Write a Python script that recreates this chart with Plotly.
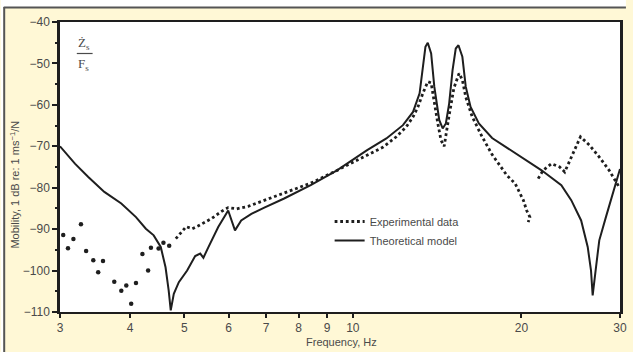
import plotly.graph_objects as go

# ---- data ----
exp_sparse_freq = [3.04, 3.10, 3.17, 3.27, 3.34, 3.44, 3.51, 3.58, 3.75, 3.86, 3.94, 4.02, 4.10, 4.21, 4.31, 4.36, 4.50, 4.59, 4.70]
exp_sparse_mob = [-91.4, -94.6, -92.4, -88.8, -95.3, -97.5, -100.4, -97.7, -102.7, -104.9, -103.6, -108.0, -103.0, -96.0, -100.0, -94.5, -94.7, -93.3, -94.0]

exp_curve_freq = [4.83, 4.94, 5.04, 5.17, 5.30, 5.60, 5.83, 5.99, 6.20, 6.50, 6.95, 7.65, 8.41, 9.25, 9.76, 10.45,
                  11.33, 11.96, 12.46, 12.81, 13.07, 13.34, 13.61, 13.80, 13.98, 14.18, 14.37, 14.56, 14.86, 15.15,
                  15.48, 15.69, 15.91, 16.34, 17.02, 17.73, 18.84, 19.49, 20.16, 20.44, 20.71, 20.57, None,
                  21.43, 21.87, 22.63, 23.41, 23.90, 24.55, 25.06, 25.50, 26.45, 27.55, 28.69, 29.28, 29.88]
exp_curve_mob = [-92.3, -90.8, -89.4, -89.9, -89.2, -87.4, -85.7, -84.8, -85.1, -84.5, -83.0, -81.0, -78.9, -76.2, -74.6, -72.6,
                 -70.2, -67.7, -65.3, -62.9, -60.5, -57.2, -54.4, -54.7, -59.6, -64.4, -68.5, -70.0, -62.5, -56.0,
                 -52.4, -54.0, -58.1, -62.9, -67.7, -72.0, -77.0, -79.0, -83.0, -85.5, -87.1, -88.3, None,
                 -77.8, -75.8, -74.2, -75.0, -76.2, -72.6, -69.7, -67.7, -69.7, -72.6, -75.8, -77.8, -79.8]

theory_freq = [3.00, 3.19, 3.37, 3.60, 3.86, 4.10, 4.27, 4.41, 4.54, 4.63, 4.69, 4.73, 4.79, 4.89, 5.06, 5.23, 5.34, 5.41,
               5.52, 5.75, 5.99, 6.16, 6.32, 6.59, 6.95, 7.54, 8.41, 9.37, 10.59, 11.48, 12.29, 12.81, 13.16, 13.34,
               13.48, 13.61, 13.80, 13.98, 14.27, 14.47, 14.66, 14.86, 15.07, 15.27, 15.44, 15.69, 15.91, 16.23, 16.79,
               17.73, 19.49, 21.73, 23.57, 24.55, 25.57, 26.27, 26.63, 26.81, 27.18, 27.55, 28.31, 29.28, 30.0]
theory_mob = [-70.0, -74.2, -77.4, -81.0, -83.8, -87.1, -89.9, -91.5, -94.3, -99.2, -104.8, -109.6, -105.6, -102.8, -100.0,
              -96.5, -95.9, -96.9, -94.4, -89.5, -85.5, -90.3, -87.9, -86.3, -84.8, -82.6, -79.4, -75.8, -71.0, -68.1,
              -64.9, -61.7, -57.2, -50.8, -46.0, -45.0, -47.6, -55.6, -63.7, -65.7, -64.5, -59.7, -51.6, -46.4, -45.6,
              -48.4, -55.6, -60.5, -64.5, -68.0, -71.7, -75.8, -79.4, -83.0, -87.9, -94.3, -100.0, -106.0, -99.2,
              -92.7, -87.1, -80.6, -75.5]

x_ticks = [3, 4, 5, 6, 7, 8, 9, 10, 20, 30]
y_ticks = [-40, -50, -60, -70, -80, -90, -100, -110]

INK = "#1e1e1e"
TXT = "#4a4a4a"
CREAM = "#fff8d6"
FONT = "Liberation Sans, Arial, sans-serif"

fig = go.Figure()
fig.add_trace(go.Scatter(x=exp_curve_freq, y=exp_curve_mob, mode="lines", name="Experimental data",
                         line=dict(color=INK, width=2.8, dash="2.8px,2.8px"), connectgaps=False))
fig.add_trace(go.Scatter(x=exp_sparse_freq, y=exp_sparse_mob, mode="markers", showlegend=False,
                         marker=dict(color=INK, size=4.5)))
fig.add_trace(go.Scatter(x=theory_freq, y=theory_mob, mode="lines", name="Theoretical model",
                         line=dict(color=INK, width=2)))

L, R, T, B = 60, 6, 22, 40
W, H = 633, 352
pw, ph = W - L - R, H - T - B


def px(xp):
    return (xp - L) / pw


def py(yp):
    return 1 - (yp - T) / ph


fig.update_layout(
    width=W, height=H,
    margin=dict(l=L, r=R, t=T, b=B),
    paper_bgcolor=CREAM, plot_bgcolor="white",
    font=dict(family=FONT, color=TXT, size=12),
    showlegend=True,
    legend=dict(x=px(333), y=py(207), xanchor="left", yanchor="top",
                bgcolor="rgba(0,0,0,0)", borderwidth=0, tracegroupgap=0,
                font=dict(family=FONT, size=11, color=TXT)),
    xaxis=dict(type="log", range=[0.47712, 1.47712], tickmode="array",
               tickvals=x_ticks, ticktext=[str(v) for v in x_ticks],
               ticks="outside", ticklen=4, tickwidth=1.5, tickcolor=INK,
               showline=True, linecolor=INK, linewidth=2, mirror=True,
               showgrid=False, zeroline=False,
               tickfont=dict(family=FONT, size=12, color=TXT)),
    yaxis=dict(range=[-110, -40], tickmode="array", tickvals=y_ticks,
               ticks="outside", ticklen=5, tickwidth=1.5, tickcolor=INK,
               minor=dict(dtick=5, tick0=-40, ticks="outside", ticklen=2, tickwidth=1.5, tickcolor=INK),
               showline=True, linecolor=INK, linewidth=2.5, mirror=True,
               showgrid=False, zeroline=False,
               tickfont=dict(family=FONT, size=12, color=TXT)),
    annotations=[
        dict(text="Mobility, 1 dB re: 1 ms<sup>−1</sup>/N", xref="paper", yref="paper",
             x=px(14), y=py(185), textangle=-90, showarrow=False,
             font=dict(family=FONT, size=11, color=TXT), xanchor="center", yanchor="middle"),
        dict(text="Frequency, Hz", xref="paper", yref="paper", x=px(345), y=py(342),
             showarrow=False, font=dict(family=FONT, size=11, color=TXT),
             xanchor="center", yanchor="middle"),
        dict(text="Ż<sub>s</sub>", xref="paper", yref="paper", x=px(84), y=py(43),
             showarrow=False, font=dict(family="Liberation Serif, serif", size=13, color=TXT),
             xanchor="center", yanchor="middle"),
        dict(text="F<sub>s</sub>", xref="paper", yref="paper", x=px(84), y=py(64),
             showarrow=False, font=dict(family="Liberation Serif, serif", size=13, color=TXT),
             xanchor="center", yanchor="middle"),
    ],
    shapes=[
        dict(type="line", xref="paper", yref="paper", x0=px(77), x1=px(93), y0=py(53.5), y1=py(53.5),
             line=dict(color=TXT, width=1.2)),
        dict(type="rect", xref="paper", yref="paper", x0=px(0), x1=px(W), y0=py(0), y1=py(7),
             fillcolor="white", line=dict(width=0), layer="above"),
        dict(type="rect", xref="paper", yref="paper", x0=px(0), x1=px(3), y0=py(0), y1=py(H),
             fillcolor="white", line=dict(width=0), layer="above"),
        dict(type="line", xref="paper", yref="paper", x0=px(3), x1=px(W), y0=py(7.5), y1=py(7.5),
             line=dict(color="#555555", width=2), layer="above"),
        dict(type="line", xref="paper", yref="paper", x0=px(3.5), x1=px(3.5), y0=py(7), y1=py(H),
             line=dict(color="#555555", width=2), layer="above"),
    ],
)

fig.write_html("out.html", config={"displayModeBar": False},
               post_script="document.body.style.margin='0';document.body.style.overflow='hidden';")
